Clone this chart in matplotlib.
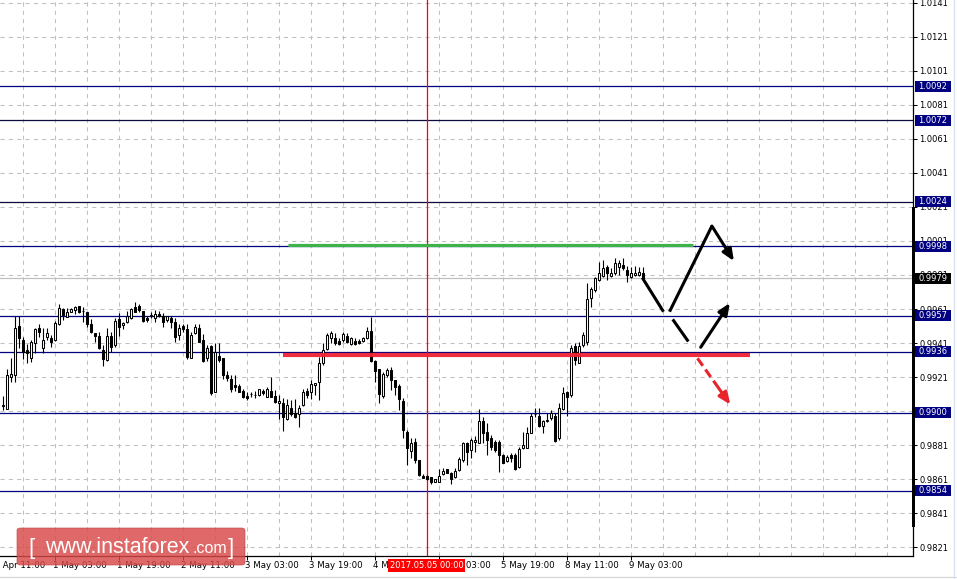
import matplotlib.pyplot as plt
import matplotlib.transforms as mtransforms
from matplotlib.patches import Rectangle, FancyBboxPatch
from matplotlib.lines import Line2D

# Hourly EUR/CHF-style candles
OPEN = [0.99039, 0.99024, 0.99208, 0.99220, 0.99510, 0.99427, 0.99369, 0.99320, 0.99408, 0.99496,
        0.99378, 0.99447, 0.99437, 0.99427, 0.99519, 0.99608, 0.99565, 0.99594, 0.99604, 0.99627,
        0.99598, 0.99590, 0.99523, 0.99467, 0.99451, 0.99369, 0.99310, 0.99453, 0.99398, 0.99551,
        0.99516, 0.99535, 0.99555, 0.99621, 0.99625, 0.99598, 0.99555, 0.99570, 0.99555, 0.99580,
        0.99571, 0.99545, 0.99559, 0.99535, 0.99457, 0.99510, 0.99490, 0.99324, 0.99467, 0.99496,
        0.99427, 0.99320, 0.99392, 0.99124, 0.99335, 0.99320, 0.99222, 0.99198, 0.99163, 0.99159,
        0.99128, 0.99100, 0.99108, 0.99104, 0.99104, 0.99129, 0.99094, 0.99128, 0.99100, 0.99055,
        0.99055, 0.98963, 0.99026, 0.98996, 0.98990, 0.99045, 0.99129, 0.99120, 0.99163, 0.99178,
        0.99290, 0.99372, 0.99437, 0.99437, 0.99423, 0.99427, 0.99451, 0.99404, 0.99423, 0.99423,
        0.99423, 0.99437, 0.99482, 0.99306, 0.99257, 0.99098, 0.99222, 0.99251, 0.99192, 0.99157,
        0.99069, 0.98888, 0.98777, 0.98826, 0.98722, 0.98630, 0.98628, 0.98624, 0.98594, 0.98594,
        0.98640, 0.98667, 0.98643, 0.98620, 0.98663, 0.98722, 0.98824, 0.98781, 0.98826, 0.98824,
        0.98951, 0.98888, 0.98849, 0.98830, 0.98830, 0.98751, 0.98718, 0.98751, 0.98751, 0.98683,
        0.98790, 0.98794, 0.98882, 0.98990, 0.98980, 0.98922, 0.98951, 0.98967, 0.98980, 0.98849,
        0.99020, 0.99124, 0.99104, 0.99392, 0.99294, 0.99398, 0.99418, 0.99672, 0.99721, 0.99780,
        0.99804, 0.99859, 0.99806, 0.99819, 0.99855, 0.99868, 0.99839, 0.99800, 0.99810, 0.99810,
        0.99823]
HIGH = [0.99100, 0.99257, 0.99324, 0.99571, 0.99571, 0.99447, 0.99402, 0.99427, 0.99500, 0.99519,
        0.99496, 0.99496, 0.99457, 0.99539, 0.99637, 0.99617, 0.99614, 0.99614, 0.99627, 0.99627,
        0.99621, 0.99594, 0.99551, 0.99467, 0.99476, 0.99398, 0.99496, 0.99472, 0.99555, 0.99584,
        0.99535, 0.99598, 0.99614, 0.99653, 0.99637, 0.99598, 0.99571, 0.99594, 0.99604, 0.99598,
        0.99584, 0.99571, 0.99571, 0.99555, 0.99519, 0.99519, 0.99519, 0.99472, 0.99519, 0.99519,
        0.99461, 0.99398, 0.99398, 0.99408, 0.99408, 0.99324, 0.99245, 0.99222, 0.99222, 0.99169,
        0.99137, 0.99124, 0.99120, 0.99128, 0.99137, 0.99137, 0.99153, 0.99212, 0.99133, 0.99104,
        0.99084, 0.99080, 0.99075, 0.99080, 0.99045, 0.99137, 0.99143, 0.99192, 0.99176, 0.99329,
        0.99408, 0.99467, 0.99480, 0.99470, 0.99437, 0.99476, 0.99467, 0.99447, 0.99437, 0.99433,
        0.99447, 0.99506, 0.99561, 0.99310, 0.99257, 0.99241, 0.99261, 0.99267, 0.99192, 0.99169,
        0.99084, 0.98898, 0.98849, 0.98853, 0.98722, 0.98640, 0.98634, 0.98624, 0.98608, 0.98667,
        0.98673, 0.98671, 0.98653, 0.98673, 0.98741, 0.98830, 0.98830, 0.98853, 0.98863, 0.99022,
        0.98977, 0.98937, 0.98869, 0.98839, 0.98839, 0.98755, 0.98751, 0.98761, 0.98761, 0.98800,
        0.98888, 0.98918, 0.98996, 0.99026, 0.99026, 0.98957, 0.98996, 0.99016, 0.98996, 0.99055,
        0.99149, 0.99129, 0.99398, 0.99408, 0.99418, 0.99476, 0.99765, 0.99741, 0.99800, 0.99888,
        0.99898, 0.99868, 0.99849, 0.99908, 0.99898, 0.99908, 0.99863, 0.99859, 0.99863, 0.99859,
        0.99859]
LOW = [0.99016, 0.99024, 0.99178, 0.99178, 0.99378, 0.99316, 0.99294, 0.99300, 0.99349, 0.99447,
       0.99349, 0.99427, 0.99388, 0.99423, 0.99516, 0.99545, 0.99563, 0.99590, 0.99582, 0.99584,
       0.99535, 0.99506, 0.99467, 0.99418, 0.99374, 0.99276, 0.99306, 0.99355, 0.99384, 0.99453,
       0.99490, 0.99525, 0.99551, 0.99590, 0.99594, 0.99535, 0.99531, 0.99555, 0.99535, 0.99565,
       0.99506, 0.99531, 0.99496, 0.99418, 0.99427, 0.99476, 0.99316, 0.99324, 0.99461, 0.99414,
       0.99296, 0.99306, 0.99104, 0.99120, 0.99300, 0.99198, 0.99186, 0.99124, 0.99128, 0.99120,
       0.99088, 0.99077, 0.99094, 0.99088, 0.99098, 0.99104, 0.99094, 0.99090, 0.99055, 0.98963,
       0.98894, 0.98957, 0.98983, 0.98971, 0.98918, 0.99041, 0.99084, 0.99078, 0.99104, 0.99075,
       0.99280, 0.99369, 0.99408, 0.99398, 0.99398, 0.99418, 0.99408, 0.99398, 0.99398, 0.99402,
       0.99418, 0.99433, 0.99300, 0.99182, 0.99055, 0.99084, 0.99212, 0.99133, 0.99104, 0.99016,
       0.98849, 0.98692, 0.98732, 0.98706, 0.98628, 0.98614, 0.98604, 0.98581, 0.98591, 0.98591,
       0.98634, 0.98643, 0.98581, 0.98614, 0.98659, 0.98712, 0.98692, 0.98732, 0.98771, 0.98820,
       0.98824, 0.98751, 0.98781, 0.98771, 0.98653, 0.98702, 0.98712, 0.98712, 0.98663, 0.98673,
       0.98784, 0.98790, 0.98879, 0.98977, 0.98918, 0.98879, 0.98947, 0.98957, 0.98830, 0.98839,
       0.99016, 0.98983, 0.99094, 0.99280, 0.99290, 0.99388, 0.99398, 0.99623, 0.99712, 0.99776,
       0.99800, 0.99780, 0.99800, 0.99810, 0.99810, 0.99839, 0.99766, 0.99790, 0.99804, 0.99804,
       0.99784]
CLOSE = [0.99043, 0.99220, 0.99226, 0.99496, 0.99437, 0.99355, 0.99349, 0.99418, 0.99490, 0.99476,
         0.99427, 0.99467, 0.99418, 0.99525, 0.99617, 0.99574, 0.99594, 0.99608, 0.99623, 0.99590,
         0.99596, 0.99519, 0.99476, 0.99453, 0.99378, 0.99316, 0.99453, 0.99384, 0.99539, 0.99506,
         0.99525, 0.99571, 0.99608, 0.99594, 0.99602, 0.99539, 0.99545, 0.99573, 0.99578, 0.99568,
         0.99535, 0.99568, 0.99535, 0.99447, 0.99496, 0.99490, 0.99329, 0.99457, 0.99506, 0.99418,
         0.99306, 0.99378, 0.99114, 0.99355, 0.99310, 0.99222, 0.99206, 0.99137, 0.99149, 0.99124,
         0.99094, 0.99088, 0.99110, 0.99106, 0.99137, 0.99118, 0.99137, 0.99094, 0.99065, 0.99069,
         0.98977, 0.99045, 0.98990, 0.98977, 0.99026, 0.99120, 0.99104, 0.99167, 0.99176, 0.99294,
         0.99369, 0.99457, 0.99467, 0.99408, 0.99404, 0.99463, 0.99418, 0.99437, 0.99404, 0.99408,
         0.99437, 0.99482, 0.99306, 0.99247, 0.99108, 0.99228, 0.99251, 0.99192, 0.99149, 0.99078,
         0.98898, 0.98790, 0.98820, 0.98722, 0.98634, 0.98618, 0.98608, 0.98594, 0.98608, 0.98630,
         0.98659, 0.98647, 0.98608, 0.98657, 0.98728, 0.98824, 0.98771, 0.98839, 0.98839, 0.98951,
         0.98879, 0.98839, 0.98800, 0.98781, 0.98751, 0.98706, 0.98737, 0.98735, 0.98667, 0.98786,
         0.98810, 0.98882, 0.98980, 0.98994, 0.98922, 0.98951, 0.98957, 0.98996, 0.98835, 0.99026,
         0.99118, 0.99094, 0.99378, 0.99310, 0.99392, 0.99457, 0.99667, 0.99725, 0.99790, 0.99819,
         0.99849, 0.99819, 0.99819, 0.99878, 0.99878, 0.99849, 0.99810, 0.99819, 0.99819, 0.99829,
         0.99790]

TIME_LABELS = ["30 Apr 11:00", "1 May 03:00", "1 May 19:00", "2 May 11:00", "3 May 03:00",
               "3 May 19:00", "4 May 11:00", "5 May 03:00", "5 May 19:00", "8 May 11:00",
               "9 May 03:00"]
TIME_LABEL_BARS = [-3, 13, 29, 45, 61, 77, 93, 109, 125, 141, 157]

GRID_PRICES = [1.0141, 1.0121, 1.0101, 1.0081, 1.0061, 1.0041, 1.0021, 1.0001, 0.9981,
               0.9961, 0.9941, 0.9921, 0.9901, 0.9881, 0.9861, 0.9841, 0.9821]

# support / resistance levels
LEVELS = [1.0092, 1.0072, 1.0024, 0.9998, 0.9957, 0.9936, 0.9900, 0.9854]
LEVEL_COLORS = ["#000080", "#0a0a3c", "#0a0a3c", "#000080", "#000080", "#000080", "#000080", "#000080"]
BID = 0.9979

VLINE_BAR = 106
VLINE_TEXT = "2017.05.05 00:00"

# drawn segments: (bar from, bar to, price)
GREEN_SEG = (71.3, 172.6, 0.99986)
RED_SEG = (70.1, 186.8, 0.99339)

# forecast arrows, points as (bar, price)
UP_PATH = [(159.9, 0.99794), (165.2, 0.99594)]
UP_ARROW = [(166.7, 0.99594), (177.3, 1.00098), (182.8, 0.99892)]
MID_PATH = [(167.5, 0.99549), (171.4, 0.99419)]
MID_ARROW = [(174.5, 0.99385), (181.8, 0.99645)]
DOWN_ARROW = [(173.7, 0.99320), (181.9, 0.99048)]

W, H = 957, 579
fig = plt.figure(figsize=(W / 100, H / 100), dpi=100)
fig.patch.set_facecolor("white")
ax = fig.add_axes([0, 23 / H, 913 / W, 556 / H])
ax.set_facecolor("white")

for s in ["left", "top"]:
    ax.spines[s].set_visible(False)
for s in ["right", "bottom"]:
    ax.spines[s].set_linewidth(0.9)
    ax.spines[s].set_color("black")

# grid
for p in GRID_PRICES:
    ax.axhline(p, color="#c0c0c0", lw=0.75, ls=(0, (4, 4)), zorder=0)
for b in range(5, 228, 8):
    ax.axvline(b, color="#c0c0c0", lw=0.75, ls=(0, (4, 4)), zorder=0)

ax.axhline(BID, color="#c0c0c0", lw=0.9, zorder=1)
for lvl, col in zip(LEVELS, LEVEL_COLORS):
    ax.axhline(lvl, color=col, lw=0.9, zorder=2)
ax.axvline(VLINE_BAR, color="red", lw=0.9, zorder=3)

# candles
for i in range(len(OPEN)):
    o, h, l, c = OPEN[i], HIGH[i], LOW[i], CLOSE[i]
    ax.vlines(i, l, h, color="black", lw=0.8, zorder=4)
    fc = "white" if c >= o else "black"
    ax.bar(i, max(abs(c - o), 1e-6), width=0.5, bottom=min(o, c), facecolor=fc,
           edgecolor="black", lw=0.75, zorder=5)

# horizontal marker segments
ax.hlines(GREEN_SEG[2], GREEN_SEG[0], GREEN_SEG[1], color="#3cb44b", lw=2.3, zorder=6)
ax.hlines(RED_SEG[2], RED_SEG[0], RED_SEG[1], color="#ee2233", lw=3.0, zorder=6, alpha=0.95)

# arrows
def path(points, **kw):
    ax.plot([p[0] for p in points], [p[1] for p in points], **kw)

blk = dict(color="black", lw=2.2, solid_capstyle="butt", zorder=7)
path(UP_PATH, **blk)
path(UP_ARROW[:2], **blk)
ax.annotate("", xy=UP_ARROW[2], xytext=UP_ARROW[1],
            arrowprops=dict(arrowstyle="-|>,head_length=0.7,head_width=0.3", color="black",
                            lw=2.2, shrinkA=0, shrinkB=0), zorder=7)
path(MID_PATH, **blk)
ax.annotate("", xy=MID_ARROW[1], xytext=MID_ARROW[0],
            arrowprops=dict(arrowstyle="-|>,head_length=0.7,head_width=0.3", color="black",
                            lw=2.2, shrinkA=0, shrinkB=0), zorder=7)
d0, d1 = DOWN_ARROW
dm = (d0[0] + 0.55 * (d1[0] - d0[0]), d0[1] + 0.55 * (d1[1] - d0[1]))
ax.plot([d0[0], dm[0]], [d0[1], dm[1]], color="#e8232b", lw=2.2, ls=(0, (3, 1.5)), zorder=7)
ax.annotate("", xy=d1, xytext=dm,
            arrowprops=dict(arrowstyle="-|>,head_length=0.7,head_width=0.3", color="#e8232b",
                            lw=2.2, shrinkA=0, shrinkB=0), zorder=7)

# price scale
ax.yaxis.tick_right()
ax.set_yticks(GRID_PRICES)
ax.set_yticklabels([f"{p:.4f}" for p in GRID_PRICES])
ax.tick_params(axis="y", length=3, width=0.75, pad=1.5, labelsize=6)

# time scale: tick marks, labels drawn as text so the cut-off first one still shows
ax.set_xticks(TIME_LABEL_BARS)
ax.tick_params(axis="x", length=3, width=0.75, labelbottom=False)
ax.set_xlim(-0.675, 227.575)
ax.set_ylim(0.981571, 1.014276)

xblend = mtransforms.blended_transform_factory(ax.transData, fig.transFigure)
for b, lab in zip(TIME_LABEL_BARS, TIME_LABELS):
    ax.text(b - 0.4, 1 - 565.5 / H, lab, transform=xblend, ha="left", va="center",
            fontsize=6.2, color="black", clip_on=False, zorder=3)

# price boxes on the right scale
yblend = mtransforms.blended_transform_factory(fig.transFigure, ax.transData)
px = 1 / 17000.0
for lvl in LEVELS + [BID]:
    fc = "black" if lvl == BID else "#000080"
    ax.add_artist(Rectangle((915 / W, lvl - 5.5 * px), 36 / W, 11 * px, transform=yblend,
                            facecolor=fc, edgecolor="none", clip_on=False, zorder=9))
    ax.text(933 / W, lvl, f"{lvl:.4f}", transform=yblend, ha="center", va="center",
            fontsize=6, color="white", clip_on=False, zorder=10)

# black bar along the price scale
ax.add_artist(Rectangle((912 / W, 0.98328), 3 / W, 1.0021 - 0.98328, transform=yblend,
                        facecolor="black", edgecolor="none", clip_on=False, zorder=8))

# date label of the vertical line
ax.text(VLINE_BAR, 1 - 565.5 / H, VLINE_TEXT, transform=xblend, ha="center", va="center",
        fontsize=6, color="white", clip_on=False, zorder=10,
        bbox=dict(boxstyle="square,pad=0.2", facecolor="red", edgecolor="none"))

# watermark
wm = FancyBboxPatch((17 / W, 1 - 565 / H), 228 / W, 37 / H,
                    boxstyle="round,pad=0,rounding_size=0.004", transform=fig.transFigure,
                    facecolor="#d94848", edgecolor="#c04040", lw=0.5, alpha=0.82, zorder=20)
fig.add_artist(wm)
wfont = dict(color="white", family="Liberation Sans", va="baseline", zorder=21)
fig.text(28 / W, 1 - 554 / H, "[", fontsize=16, **wfont)
fig.text(45 / W, 1 - 553 / H, "www.instaforex", fontsize=15.5, **wfont)
fig.text(192 / W, 1 - 553 / H, ".com", fontsize=11.5, **wfont)
fig.text(228 / W, 1 - 554 / H, "]", fontsize=16, **wfont)

# outer frame
fig.add_artist(Line2D([0, 1], [2 / H, 2 / H], transform=fig.transFigure, color="#d8d8d8", lw=1))
fig.add_artist(Line2D([954 / W, 954 / W], [0, 1], transform=fig.transFigure, color="#d8e4f0", lw=1))

fig.savefig("out.png", dpi=100)
